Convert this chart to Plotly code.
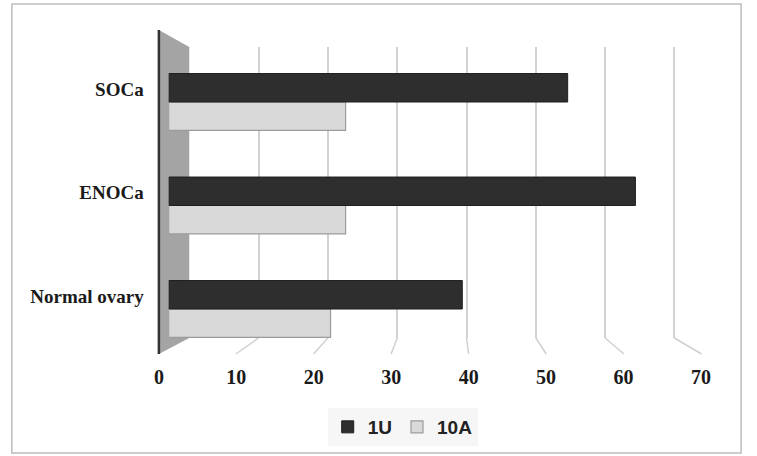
import plotly.graph_objects as go

# ---- data ----
categories = ["Normal ovary", "ENOCa", "SOCa"]
values_1u = [39, 62, 53]
values_10a = [21.5, 23.5, 23.5]
tick_vals = [0, 10, 20, 30, 40, 50, 60, 70]
tick_text = ["0", "10", "20", "30", "40", "50", "60", "70"]

W, H = 757, 456


def px(p):
    return p / W


def py(p):
    return 1 - p / H


# layout geometry (pixels)
FRONT_L, FRONT_R = 157, 710      # front plane (tick labels)
BACK_L, BACK_R = 188, 683        # back wall (gridlines), values 0..70
BAR_L, BAR_R = 167, 704.6        # bar plane
BACK_TOP, BACK_BOT = 47, 338
FLOOR_FRONT = 354
PAD = 5                          # extra axis units either side of the back axis

bs = (BACK_R - BACK_L) / 70
fs = (FRONT_R - FRONT_L) / 70

fig = go.Figure()

# subplot for back-wall gridlines
fig.add_trace(go.Scatter(x=[None], y=[None], xaxis="x", yaxis="y",
                         showlegend=False, hoverinfo="skip"))

fig.add_trace(go.Bar(
    y=categories, x=values_10a, name="10A", orientation="h",
    xaxis="x2", yaxis="y2",
    marker=dict(color="#d9d9d9", line=dict(color="#9c9c9c", width=1.2)),
))
fig.add_trace(go.Bar(
    y=categories, x=values_1u, name="1U", orientation="h",
    xaxis="x2", yaxis="y2",
    marker=dict(color="#2e2e2e", line=dict(color="#1e1e1e", width=1)),
))

# subplot for front tick labels
fig.add_trace(go.Scatter(x=[None], y=[None], xaxis="x3", yaxis="y3",
                         showlegend=False, hoverinfo="skip"))

shapes = []
# outer border
shapes.append(dict(type="rect", xref="paper", yref="paper",
                   x0=px(7), x1=px(751), y0=py(453), y1=py(4),
                   line=dict(color="#bdbdbd", width=1.5), layer="below"))
# left wall
wall_path = (f"M {px(FRONT_L)},{py(30)} L {px(BACK_L)},{py(BACK_TOP)} "
             f"L {px(BACK_L)},{py(BACK_BOT)} L {px(FRONT_L)},{py(FLOOR_FRONT)} Z")
shapes.append(dict(type="path", xref="paper", yref="paper", path=wall_path,
                   fillcolor="#a4a4a4", line=dict(width=0), layer="below"))
shapes.append(dict(type="line", xref="paper", yref="paper",
                   x0=px(FRONT_L), x1=px(FRONT_L), y0=py(30), y1=py(FLOOR_FRONT),
                   line=dict(color="#333333", width=2.5)))
# floor lines linking back gridlines to front ticks
for v in tick_vals[1:]:
    off = (FRONT_L + v * fs) - (BACK_L + v * bs)
    shapes.append(dict(type="line", xref="x", yref="paper",
                       xsizemode="pixel", xanchor=v, x0=0, x1=off,
                       y0=py(BACK_BOT), y1=py(FLOOR_FRONT),
                       line=dict(color="#d0d0d0", width=1.5), layer="below"))

serif_bold = dict(family="Liberation Serif", size=20, color="#1a1a1a", weight="bold")

fig.update_layout(
    width=W, height=H,
    margin=dict(l=0, r=0, t=0, b=0),
    paper_bgcolor="white",
    plot_bgcolor="rgba(0,0,0,0)",
    barmode="group", bargap=0.45, bargroupgap=0,
    shapes=shapes,
    xaxis=dict(domain=[px(BACK_L - PAD * bs), px(BACK_R + PAD * bs)],
               range=[-PAD, 70 + PAD], anchor="y",
               tickvals=tick_vals[1:], showgrid=True, gridcolor="#d2d2d2", gridwidth=1.5,
               showticklabels=False, ticks="", zeroline=False, showline=False),
    yaxis=dict(domain=[py(BACK_BOT), py(BACK_TOP)], range=[0, 1], anchor="x",
               visible=False),
    xaxis2=dict(domain=[px(BAR_L), px(BAR_R)], range=[0, 70], anchor="y2",
                visible=False),
    yaxis2=dict(domain=[py(360.75), py(50.25)], anchor="x2", type="category",
                categoryorder="array", categoryarray=categories, range=[-0.5, 2.5],
                showgrid=False, zeroline=False, showline=False, ticks="",
                tickfont=dict(family="Liberation Serif", size=19, color="#1a1a1a",
                              weight="bold"),
                ticklabelstandoff=24, ticklabelshift=-13),
    xaxis3=dict(domain=[px(FRONT_L), px(FRONT_R)], range=[0, 70], anchor="y3",
                tickvals=tick_vals, ticktext=tick_text, tickfont=serif_bold,
                showgrid=False, zeroline=False, showline=False, ticks=""),
    yaxis3=dict(domain=[py(363), py(357)], anchor="x3", visible=False),
    legend=dict(orientation="h", x=0.536, xanchor="center", y=py(408), yanchor="top",
                bgcolor="#f6f6f6", traceorder="reversed",
                font=dict(family="Liberation Sans", size=19, color="#222222",
                          weight="bold"),
                itemwidth=30),
)

fig.write_html("out.html",
               config={"displayModeBar": False},
               post_script="document.body.style.margin='0';"
                           "document.body.style.overflow='hidden';")
